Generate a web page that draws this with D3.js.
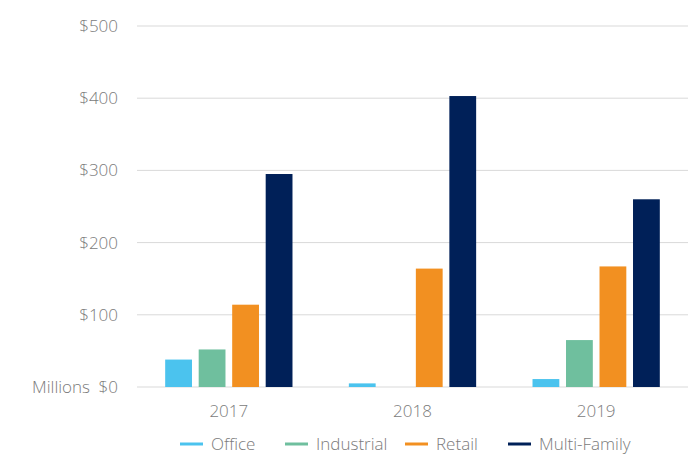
<!DOCTYPE html>
<html>
<head>
<meta charset="utf-8">
<script src="https://cdn.jsdelivr.net/npm/d3@7"></script>
<style>
  body { margin: 0; background: #fff; }
  svg text { font-family: "Open Sans", sans-serif; fill: #7b7b7b; font-weight: 300; }
</style>
</head>
<body>
<svg id="chart" width="697" height="454"></svg>
<script>
const years = ["2017", "2018", "2019"];
const seriesNames = ["Office", "Industrial", "Retail", "Multi-Family"];
const office = [38, 5, 11];
const industrial = [52, 0, 65];
const retail = [114, 164, 167];
const multiFamily = [295, 403, 260];
const yTicks = [0, 100, 200, 300, 400, 500];
const colors = ["#4bc3ee", "#6fbf9e", "#f29021", "#002058"];

const seriesValues = [office, industrial, retail, multiFamily];
const data = years.map((yr, i) => ({
  year: yr,
  values: seriesNames.map((s, j) => ({ key: s, value: seriesValues[j][i] }))
}));

const svg = d3.select("#chart"),
  margin = { top: 26, right: 9, bottom: 67, left: 137 },
  width = +svg.attr("width") - margin.left - margin.right,
  height = +svg.attr("height") - margin.top - margin.bottom;

const g = svg.append("g")
  .attr("transform", `translate(${margin.left},${margin.top})`);

const x0 = d3.scaleBand().domain(years).range([0, width]).padding(0);
const x1 = d3.scaleBand().domain(seriesNames)
  .range([x0.bandwidth() / 2 - 67, x0.bandwidth() / 2 + 67])
  .paddingInner(0.2).paddingOuter(0.1);
const y = d3.scaleLinear().domain([0, 500]).range([height, 0]);

// gridlines
g.append("g")
  .selectAll("line")
  .data(yTicks)
  .join("line")
  .attr("x1", 0)
  .attr("x2", width)
  .attr("y1", (d) => y(d))
  .attr("y2", (d) => y(d))
  .attr("stroke", "#d9d9d9")
  .attr("stroke-width", 1);

// y labels
g.append("g")
  .selectAll("text")
  .data(yTicks)
  .join("text")
  .attr("x", -19)
  .attr("y", (d) => y(d))
  .attr("dy", "0.35em")
  .attr("text-anchor", "end")
  .style("font-size", "17px")
  .text((d) => "$" + d);

g.append("text")
  .attr("x", -47)
  .attr("y", y(0))
  .attr("dy", "0.35em")
  .attr("text-anchor", "end")
  .style("font-size", "17px")
  .text("Millions");

// bars
const groups = g.selectAll(".grp")
  .data(data)
  .join("g")
  .attr("class", "grp")
  .attr("transform", (d) => `translate(${x0(d.year)},0)`);

groups.selectAll("rect")
  .data((d) => d.values)
  .join("rect")
  .attr("x", (d) => x1(d.key))
  .attr("width", x1.bandwidth())
  .attr("y", (d) => y(d.value))
  .attr("height", (d) => y(0) - y(d.value))
  .attr("fill", (d, i) => colors[i]);

// x labels
g.append("g")
  .selectAll("text")
  .data(years)
  .join("text")
  .attr("x", (d) => x0(d) + x0.bandwidth() / 2)
  .attr("y", height + 30)
  .attr("text-anchor", "middle")
  .style("font-size", "17px")
  .text((d) => d);

// legend
const legendX = [180, 285, 405, 508];
const legend = svg.append("g").attr("transform", "translate(0,444)");
const items = legend.selectAll("g")
  .data(seriesNames)
  .join("g")
  .attr("transform", (d, i) => `translate(${legendX[i]},0)`);
items.append("line")
  .attr("x1", 0)
  .attr("x2", 23)
  .attr("stroke", (d, i) => colors[i])
  .attr("stroke-width", 3);
items.append("text")
  .attr("x", 31)
  .attr("dy", "0.35em")
  .style("font-size", "17px")
  .text((d) => d);
</script>
</body>
</html>
